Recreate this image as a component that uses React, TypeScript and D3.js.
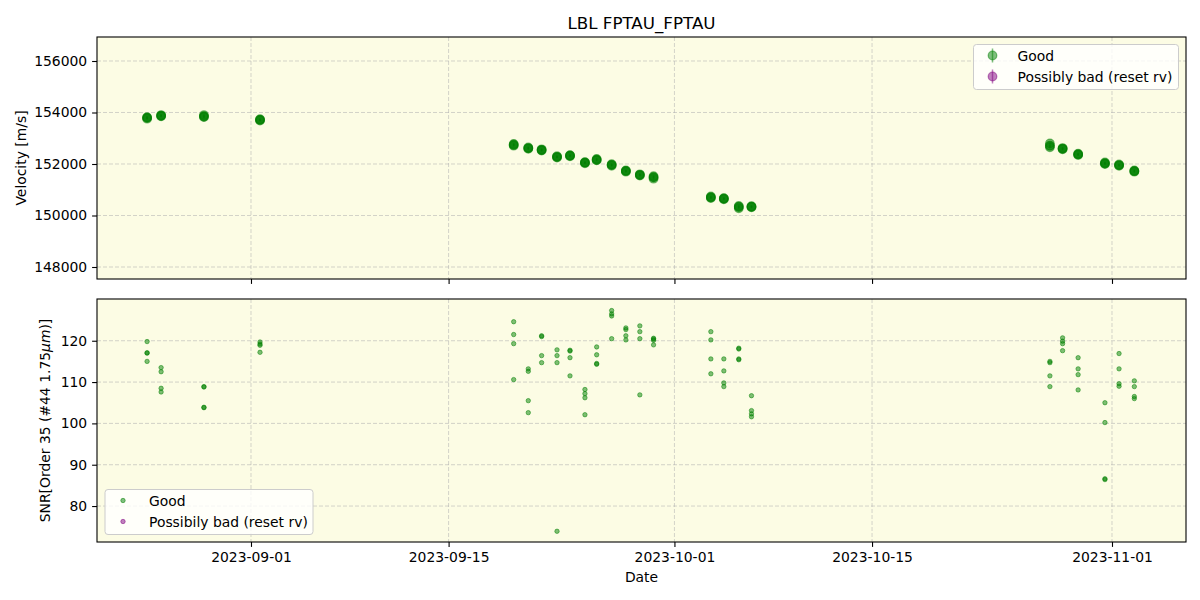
import React, { useEffect, useRef } from 'react';
import * as d3 from 'd3';

// one entry per night, several exposures each night
const nightTimes = [
  '2023-08-24T15:20', '2023-08-25T15:10', '2023-08-28T16:00', '2023-09-01T15:20',
  '2023-09-19T14:40', '2023-09-20T15:30', '2023-09-21T14:10', '2023-09-22T16:20',
  '2023-09-23T14:25', '2023-09-24T15:50', '2023-09-25T11:45', '2023-09-26T13:15',
  '2023-09-27T13:25', '2023-09-28T13:10', '2023-09-29T12:30', '2023-10-03T13:55',
  '2023-10-04T12:00', '2023-10-05T13:25', '2023-10-06T11:00', '2023-10-27T14:25',
  '2023-10-28T12:00', '2023-10-29T14:25', '2023-10-31T12:00', '2023-11-01T12:00',
  '2023-11-02T14:00',
];

const rvValues = [
  [153820, 153790, 153760, 153800], [153900, 153870, 153850, 153880],
  [153900, 153860, 153820, 153840], [153740, 153710, 153690, 153720],
  [152780, 152740, 152710, 152750], [152640, 152610, 152590, 152620],
  [152570, 152540, 152520, 152550], [152300, 152270, 152250, 152280],
  [152340, 152320, 152300, 152330], [152070, 152050, 152030, 152060],
  [152200, 152160, 152140, 152170], [151990, 151960, 151930, 151970],
  [151750, 151730, 151700, 151730], [151600, 151570, 151550, 151580],
  [151530, 151490, 151430, 151480], [150740, 150710, 150680, 150700],
  [150670, 150650, 150630, 150660], [150370, 150340, 150280, 150330],
  [150360, 150340, 150320, 150340], [152800, 152720, 152650, 152700],
  [152620, 152590, 152570, 152600], [152400, 152370, 152350, 152380],
  [152060, 152030, 152000, 152020], [151980, 151960, 151930, 151950],
  [151750, 151730, 151700, 151720],
];

const rvErrors = [40, 40, 40, 40];

const snrValues = [
  [119.8, 117.1, 117.0, 115.0], [113.5, 112.5, 108.5, 107.6],
  [108.9, 108.8, 103.9, 103.8], [119.7, 119.2, 118.9, 117.2],
  [124.6, 121.5, 119.3, 110.6], [113.2, 112.6, 105.5, 102.6],
  [121.2, 121.0, 116.4, 114.7], [117.8, 116.4, 114.7, 73.9],
  [117.7, 117.5, 115.9, 111.5], [108.2, 107.2, 106.2, 102.1],
  [118.5, 116.6, 114.5, 114.3], [127.3, 126.5, 126.0, 120.5],
  [123.1, 122.7, 121.2, 120.2], [123.6, 122.2, 120.5, 106.9],
  [120.6, 120.4, 120.1, 119.0], [122.2, 120.2, 115.6, 112.0],
  [115.6, 112.7, 109.8, 108.9], [118.2, 118.0, 115.6, 115.4],
  [106.7, 103.1, 102.3, 101.6], [115.0, 114.7, 111.5, 108.9],
  [120.7, 119.9, 119.3, 117.6], [115.9, 113.2, 111.8, 108.1],
  [105.0, 100.2, 86.6, 86.4], [116.9, 113.2, 109.6, 109.0],
  [110.3, 108.9, 106.5, 106.0],
];

const xTickDates = ['2023-09-01T00:00', '2023-09-15T00:00', '2023-10-01T00:00', '2023-10-15T00:00', '2023-11-01T00:00'];
const rvTicks = [148000, 150000, 152000, 154000, 156000];
const snrTicks = [80, 90, 100, 110, 120];
const xDomain = ['2023-08-21T02:10', '2023-11-06T05:50'];
const rvDomain = [147534, 156932];
const snrDomain = [71.3, 130.1];

function App() {
  const svgRef = useRef<SVGSVGElement>(null);

  useEffect(() => {
    const svg = d3.select(svgRef.current);
    svg.selectAll('*').remove();

    const font = 'DejaVu Sans, sans-serif';
    const left = 97, right = 1186;
    const topPanel = { y0: 37, y1: 279 };
    const botPanel = { y0: 299, y1: 542 };
    const bg = '#fcfce4';
    const good = '#008000';
    const bad = '#800080';

    const parse = d3.utcParse('%Y-%m-%dT%H:%M');
    const x = d3.scaleUtc().domain(xDomain.map(d => parse(d) as Date)).range([left, right]);
    const yRv = d3.scaleLinear().domain(rvDomain).range([topPanel.y1, topPanel.y0]);
    const ySnr = d3.scaleLinear().domain(snrDomain).range([botPanel.y1, botPanel.y0]);
    const xTicks = xTickDates.map(d => parse(d) as Date);

    const obs: { t: Date; rv: number; err: number; snr: number }[] = [];
    nightTimes.forEach((n, i) => {
      rvValues[i].forEach((rv, j) => {
        obs.push({ t: parse(n) as Date, rv, err: rvErrors[j], snr: snrValues[i][j] });
      });
    });

    svg.append('rect').attr('width', 1200).attr('height', 600).attr('fill', '#fff');

    // title
    svg.append('text')
      .attr('x', (left + right) / 2).attr('y', 29)
      .attr('text-anchor', 'middle')
      .style('font-family', font).style('font-size', '16.7px')
      .text('LBL FPTAU_FPTAU');

    function panel(p: { y0: number; y1: number }, y: d3.ScaleLinear<number, number>, yTicks: number[], showX: boolean) {
      const g = svg.append('g');
      g.append('rect')
        .attr('x', left).attr('y', p.y0)
        .attr('width', right - left).attr('height', p.y1 - p.y0)
        .attr('fill', bg);

      // grid
      g.selectAll('.vgrid').data(xTicks).enter().append('line')
        .attr('x1', d => x(d)).attr('x2', d => x(d))
        .attr('y1', p.y0).attr('y2', p.y1)
        .style('stroke', '#b0b0b0').style('stroke-opacity', 0.55)
        .style('stroke-width', 1).style('stroke-dasharray', '4,2');
      g.selectAll('.hgrid').data(yTicks).enter().append('line')
        .attr('x1', left).attr('x2', right)
        .attr('y1', d => y(d)).attr('y2', d => y(d))
        .style('stroke', '#b0b0b0').style('stroke-opacity', 0.55)
        .style('stroke-width', 1).style('stroke-dasharray', '4,2');
      return g;
    }

    function frame(p: { y0: number; y1: number }, y: d3.ScaleLinear<number, number>, yTicks: number[], showX: boolean) {
      const xAxis = d3.axisBottom(x).tickValues(xTicks)
        .tickFormat(showX ? (d => d3.utcFormat('%Y-%m-%d')(d as Date)) : () => '')
        .tickSizeInner(4.9).tickSizeOuter(0).tickPadding(4.9);
      const xg = svg.append('g').attr('transform', `translate(0,${p.y1})`).call(xAxis);
      const yAxis = d3.axisLeft(y).tickValues(yTicks).tickFormat(d3.format('d'))
        .tickSizeInner(4.9).tickSizeOuter(0).tickPadding(4.9);
      const yg = svg.append('g').attr('transform', `translate(${left},0)`).call(yAxis);
      [xg, yg].forEach(a => {
        a.select('.domain').remove();
        a.selectAll('line').style('stroke', '#000').style('stroke-width', 1.1);
        a.selectAll('text').style('font-family', font).style('font-size', '13.9px').style('fill', '#000');
      });
      svg.append('rect')
        .attr('x', left).attr('y', p.y0)
        .attr('width', right - left).attr('height', p.y1 - p.y0)
        .attr('fill', 'none').style('stroke', '#000').style('stroke-width', 1.1);
    }

    // --- velocity panel
    const gTop = panel(topPanel, yRv, rvTicks, false);
    gTop.selectAll('.err').data(obs).enter().append('line')
      .attr('x1', d => x(d.t)).attr('x2', d => x(d.t))
      .attr('y1', d => yRv(d.rv - d.err)).attr('y2', d => yRv(d.rv + d.err))
      .style('stroke', good).style('stroke-opacity', 0.5).style('stroke-width', 1.5);
    gTop.selectAll('.rv').data(obs).enter().append('circle')
      .attr('cx', d => x(d.t)).attr('cy', d => yRv(d.rv))
      .attr('r', 4.3)
      .style('fill', good).style('fill-opacity', 0.5)
      .style('stroke', good).style('stroke-opacity', 0.5).style('stroke-width', 1.2);
    frame(topPanel, yRv, rvTicks, false);

    // --- SNR panel
    const gBot = panel(botPanel, ySnr, snrTicks, true);
    gBot.selectAll('.snr').data(obs).enter().append('circle')
      .attr('cx', d => x(d.t)).attr('cy', d => ySnr(d.snr))
      .attr('r', 2.2)
      .style('fill', good).style('fill-opacity', 0.5)
      .style('stroke', good).style('stroke-opacity', 0.5).style('stroke-width', 1);
    frame(botPanel, ySnr, snrTicks, true);

    // axis labels
    svg.append('text')
      .attr('transform', `translate(26,${(topPanel.y0 + topPanel.y1) / 2}) rotate(-90)`)
      .attr('text-anchor', 'middle')
      .style('font-family', font).style('font-size', '13.9px')
      .text('Velocity [m/s]');
    const snrLabel = svg.append('text')
      .attr('transform', `translate(50,${(botPanel.y0 + botPanel.y1) / 2}) rotate(-90)`)
      .attr('text-anchor', 'middle')
      .style('font-family', font).style('font-size', '13.9px');
    snrLabel.append('tspan').text('SNR[Order 35 (#44 1.75');
    snrLabel.append('tspan').style('font-style', 'italic').text('μm');
    snrLabel.append('tspan').text(')]');
    svg.append('text')
      .attr('x', (left + right) / 2).attr('y', 582)
      .attr('text-anchor', 'middle')
      .style('font-family', font).style('font-size', '13.9px')
      .text('Date');

    // legends
    function legend(bx: number, by: number, w: number, labels: string[], errStyle: boolean) {
      const lg = svg.append('g');
      lg.append('rect')
        .attr('x', bx).attr('y', by).attr('width', w).attr('height', 45).attr('rx', 3)
        .style('fill', '#fff').style('fill-opacity', 0.8)
        .style('stroke', '#cccccc').style('stroke-width', 1);
      [good, bad].forEach((c, i) => {
        const cy = by + 11 + i * 21;
        const mx = bx + (errStyle ? 19 : 18);
        if (errStyle) {
          lg.append('line')
            .attr('x1', mx).attr('x2', mx).attr('y1', cy - 7).attr('y2', cy + 7)
            .style('stroke', c).style('stroke-opacity', 0.5).style('stroke-width', 1.5);
          lg.append('circle').attr('cx', mx).attr('cy', cy).attr('r', 4.3)
            .style('fill', c).style('fill-opacity', 0.5)
            .style('stroke', c).style('stroke-opacity', 0.5).style('stroke-width', 1.2);
        } else {
          lg.append('circle').attr('cx', mx).attr('cy', cy).attr('r', 2.2)
            .style('fill', c).style('fill-opacity', 0.5)
            .style('stroke', c).style('stroke-opacity', 0.5).style('stroke-width', 1);
        }
        lg.append('text')
          .attr('x', bx + 44).attr('y', cy + 5)
          .style('font-family', font).style('font-size', '13.9px')
          .text(labels[i]);
      });
    }
    legend(973.5, 44.5, 205, ['Good', 'Possibly bad (reset rv)'], true);
    legend(105, 489.5, 208, ['Good', 'Possibily bad (reset rv)'], false);
  }, []);

  return (
    <svg ref={svgRef} width={1200} height={600}
      style={{ position: 'absolute', left: 0, top: 0, display: 'block' }} />
  );
}

export default App;
